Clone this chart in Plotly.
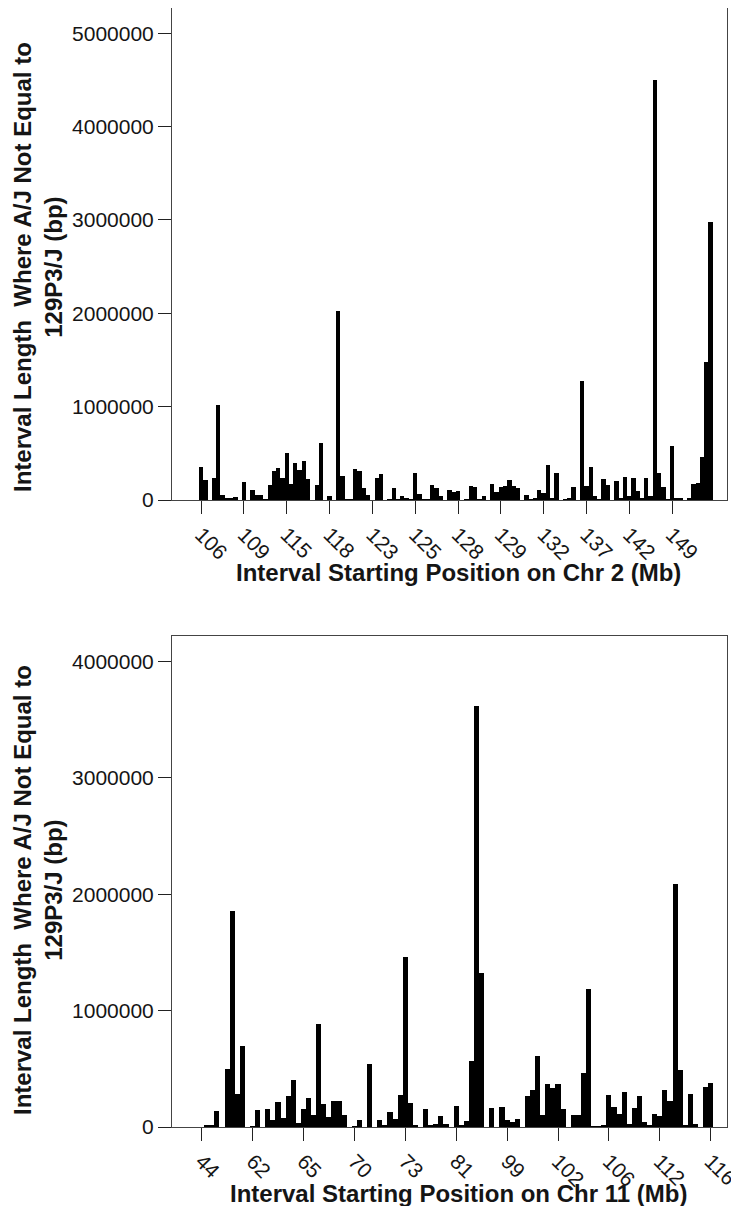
import plotly.graph_objects as go
from plotly.subplots import make_subplots

# ---- Chr 2 data (interval lengths, bp) ----
chr2_lengths = [
    357000, 214000, 0, 240000, 1018000, 55000, 21000, 21000, 35000, 0,
    188000, 0, 104000, 57000, 57000, 8000, 157000, 310000, 343000, 240000,
    507000, 168000, 400000, 318000, 418000, 225000, 0, 157000, 607000, 0,
    42000, 0, 2030000, 258000, 12000, 7000, 330000, 316000, 130000, 50000,
    0, 232000, 278000, 0, 14000, 134000, 16000, 38000, 22000, 16000,
    293000, 69000, 7000, 7000, 162000, 130000, 38000, 0, 104000, 90000,
    92000, 0, 12000, 154000, 140000, 7000, 41000, 0, 177000, 84000,
    136000, 150000, 218000, 146000, 134000, 0, 57000, 7000, 20000, 112000,
    70000, 380000, 27000, 294000, 0, 12000, 19000, 141000, 0, 1270000,
    146000, 358000, 40000, 7000, 220000, 157000, 0, 205000, 18000, 245000,
    41000, 241000, 93000, 20000, 234000, 38000, 4500000, 294000, 140000, 5000,
    584000, 25000, 25000, 0, 25000, 168000, 182000, 457000, 1478000, 2980000,
]
chr2_tick_labels = ["106", "109", "115", "118", "123", "125", "128", "129",
                    "132", "137", "142", "149"]

# ---- Chr 11 data (interval lengths, bp) ----
chr11_lengths = [
    0, 14000, 14000, 135000, 0, 500000, 1860000, 280000, 696000, 0,
    10000, 143000, 0, 152000, 57000, 218000, 80000, 264000, 404000, 37000,
    158000, 246000, 100000, 885000, 200000, 83000, 223000, 226000, 100000, 0,
    10000, 63000, 0, 544000, 0, 63000, 20000, 132000, 72000, 278000,
    1460000, 206000, 20000, 0, 155000, 20000, 26000, 97000, 29000, 0,
    183000, 20000, 54000, 570000, 3620000, 1320000, 0, 163000, 0, 175000,
    60000, 40000, 69000, 0, 266000, 320000, 610000, 100000, 367000, 338000,
    372000, 152000, 0, 100000, 100000, 467000, 1190000, 9000, 9000, 20000,
    278000, 170000, 115000, 298000, 30000, 163000, 266000, 43000, 20000, 112000,
    92000, 315000, 220000, 2090000, 487000, 20000, 284000, 26000, 0, 344000,
    381000,
]
chr11_tick_labels = ["44", "62", "65", "70", "73", "81", "99", "102", "106",
                     "112", "116"]

y_ticks_chr2 = [0, 1000000, 2000000, 3000000, 4000000, 5000000]
y_ticks_chr11 = [0, 1000000, 2000000, 3000000, 4000000]

y_title = "<b>Interval Length  Where A/J Not Equal to<br>129P3/J (bp)</b>"
x_title_chr2 = "<b>Interval Starting Position on Chr 2 (Mb)</b>"
x_title_chr11 = "<b>Interval Starting Position on Chr 11 (Mb)</b>"
FONT = "Liberation Sans, Arial, sans-serif"
TXT = "#151515"

# page body has an 8px margin; figure coordinates below are page coords - 8
OFF = 8
L, R, T, B = 172 - OFF, 12, 8 - OFF, 87 - OFF
PLOT_W, PLOT_H = 555, 1119
W, H = L + PLOT_W + R, T + PLOT_H + B

fig = make_subplots(rows=2, cols=1, vertical_spacing=0.12)

x2 = list(range(len(chr2_lengths)))
x11 = list(range(len(chr11_lengths)))

fig.add_trace(go.Bar(x=x2, y=chr2_lengths, marker=dict(color="black", line=dict(width=0)),
                     showlegend=False), row=1, col=1)
fig.add_trace(go.Bar(x=x11, y=chr11_lengths, marker=dict(color="black", line=dict(width=0)),
                     showlegend=False), row=2, col=1)

axis_common = dict(showline=True, linecolor="#444", linewidth=1, mirror=True,
                   showgrid=False, zeroline=False, ticks="outside", automargin=False,
                   ticklabeloverflow="allow",
                   tickcolor="#222", tickfont=dict(family=FONT, size=21, color=TXT))

fig.update_xaxes(**axis_common)
fig.update_yaxes(**axis_common)

fig.update_xaxes(row=1, col=1, range=[-6.82, 122.85], domain=[0, 1],
                 tickvals=x2[::10], ticktext=chr2_tick_labels, tickangle=45,
                 ticklen=13)
fig.update_xaxes(row=2, col=1, range=[-5.83, 103.2], domain=[0, 1],
                 tickvals=x11[::10], ticktext=chr11_tick_labels, tickangle=45,
                 ticklen=13)

fig.update_yaxes(row=1, col=1, range=[0, 5270000], domain=[0.5603, 1.0],
                 tickvals=y_ticks_chr2, ticktext=[str(v) for v in y_ticks_chr2],
                 ticklen=13)
fig.update_yaxes(row=2, col=1, range=[0, 4220000], domain=[0.0, 0.4388],
                 tickvals=y_ticks_chr11, ticktext=[str(v) for v in y_ticks_chr11],
                 ticklen=13)

title_font = dict(family=FONT, size=24, color=TXT)

def py(pix):
    return (1127 - pix) / PLOT_H

def px(pix):
    return (pix - 172) / PLOT_W

annotations = [
    dict(text=x_title_chr2, x=px(458), y=py(572), xref="paper", yref="paper",
         xanchor="center", yanchor="middle", showarrow=False, font=title_font),
    dict(text=x_title_chr11, x=px(458), y=py(1193), xref="paper", yref="paper",
         xanchor="center", yanchor="middle", showarrow=False, font=title_font),
    dict(text=y_title, x=px(38), y=py(267), xref="paper", yref="paper",
         xanchor="center", yanchor="middle", showarrow=False, font=title_font,
         textangle=-90),
    dict(text=y_title, x=px(38), y=py(890), xref="paper", yref="paper",
         xanchor="center", yanchor="middle", showarrow=False, font=title_font,
         textangle=-90),
]

fig.update_layout(width=W, height=H, bargap=0,
                  margin=dict(l=L, r=R, t=T, b=B),
                  plot_bgcolor="white", paper_bgcolor="white",
                  font=dict(family=FONT, color=TXT),
                  annotations=annotations)

fig.write_html("out.html")
